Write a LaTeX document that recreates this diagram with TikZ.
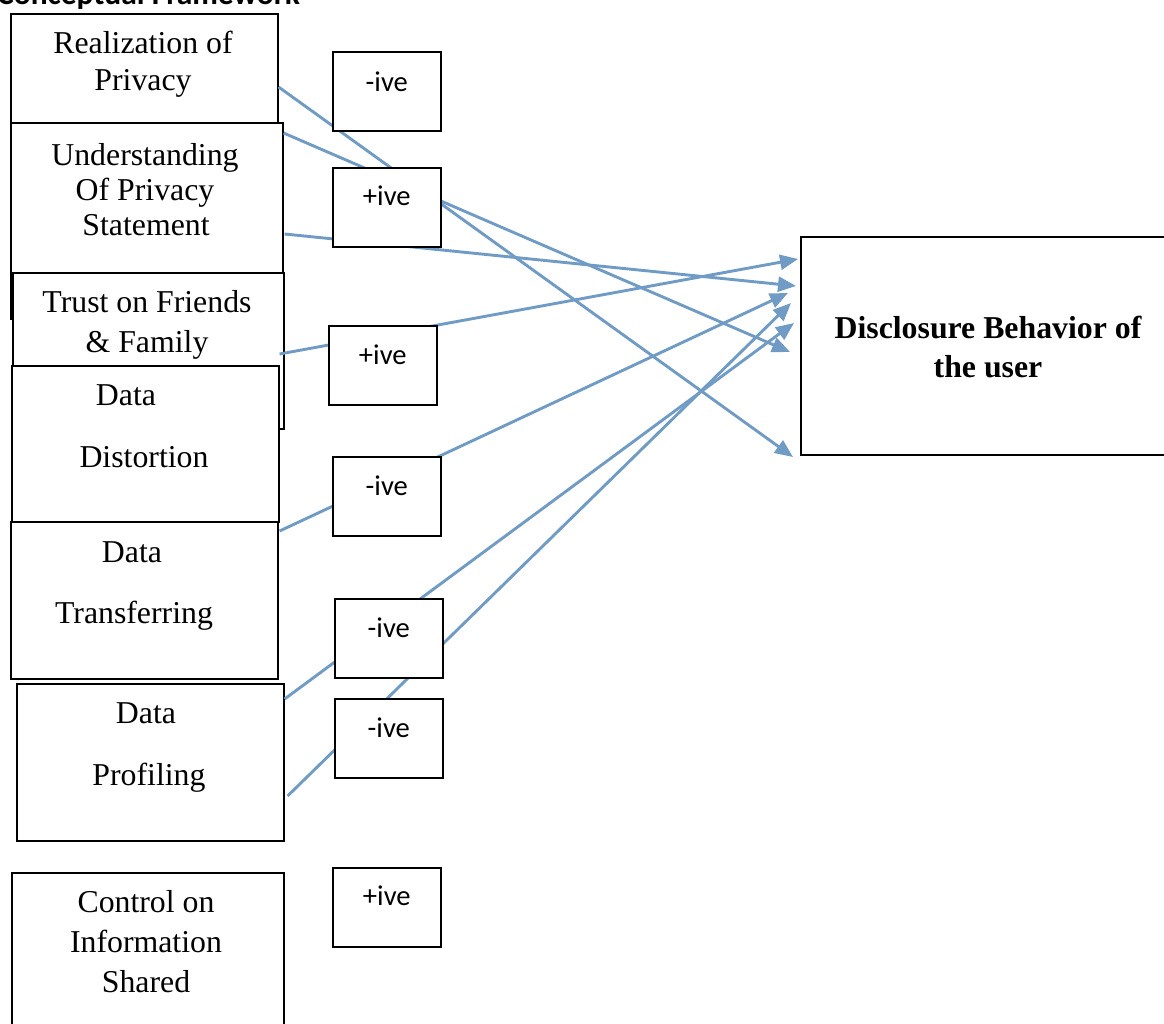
\documentclass[tikz,border=0pt]{standalone}
\usepackage{fontspec}
\setmainfont{Liberation Serif}
\newfontfamily\calibri{Carlito}
\usetikzlibrary{arrows.meta,calc}
\definecolor{connblue}{RGB}{112,155,197}
\begin{document}
\begin{tikzpicture}[x=1pt,y=-1pt,
  box/.style={draw=black, line width=1.6pt, fill=white, rectangle, inner sep=0pt, anchor=north west},
  lbox/.style={box, minimum width=108pt, minimum height=79pt},
  txt/.style={font=\fontsize{31.8}{38}\selectfont, anchor=base, inner sep=0pt},
  btxt/.style={font=\bfseries\fontsize{31.8}{38}\selectfont, anchor=base, inner sep=0pt},
  lab/.style={font=\calibri\fontsize{28.6}{34}\selectfont, anchor=base, inner sep=0pt},
  conn/.style={draw=connblue, line width=2.9pt, -{Triangle[length=18pt,width=15pt]}}]
\useasboundingbox (0,0) rectangle (1164,1023);
\clip (0,0) rectangle (1164,1023);

% title (cut at top edge, as in the reference)
\node[font=\calibri\bfseries\fontsize{31.5}{38}\selectfont, anchor=base west, inner sep=0pt] (title) at (-3,4) {Conceptual Framework};

% left boxes
\node[box, minimum width=267pt, minimum height=110pt] (b1) at (10,13) {};
\node[txt] (b1a) at (143,53) {Realization of};
\node[txt] (b1b) at (143,90) {Privacy};

\node[box, minimum width=272pt, minimum height=196pt] (b2) at (10,122) {};
\node[txt] (b2a) at (145,165) {Understanding};
\node[txt] (b2b) at (145,200) {Of Privacy};
\node[txt] (b2c) at (146,235) {Statement};

\node[box, minimum width=271pt, minimum height=156pt] (b3) at (12,272) {};
\node[txt] (b3a) at (147,312) {Trust on Friends};
\node[txt] (b3b) at (147,352) {\& Family};

\node[box, minimum width=267pt, minimum height=156pt] (b4) at (11,365) {};
\node[txt] (b4a) at (126,405) {Data};
\node[txt] (b4b) at (144,467) {Distortion};

\node[box, minimum width=267pt, minimum height=157pt] (b5) at (10,521) {};
\node[txt] (b5a) at (132,562) {Data};
\node[txt] (b5b) at (134,623) {Transferring};

\node[box, minimum width=267pt, minimum height=157pt] (b6) at (16,683) {};
\node[txt] (b6a) at (146,723) {Data};
\node[txt] (b6b) at (149,785) {Profiling};

\node[box, minimum width=272pt, minimum height=170pt] (b7) at (11,872) {};
\node[txt] (b7a) at (146,912) {Control on};
\node[txt] (b7b) at (146,952) {Information};
\node[txt] (b7c) at (146,992) {Shared};

% target box
\node[box, minimum width=380pt, minimum height=218pt] (tg) at (800,236) {};
\node[btxt] (tga) at (988,338) {Disclosure Behavior of};
\node[btxt] (tgb) at (988,377) {the user};

% connector ends
\coordinate (s1) at ($(b1.north east)+(0,74)$);
\coordinate (s2) at ($(b2.north east)+(0,11)$);
\coordinate (s3) at ($(b2.north east)+(1,112)$);
\coordinate (s4) at ($(b3.north east)+(-5,82)$);
\coordinate (s5) at ($(b5.north east)+(1,10)$);
\coordinate (s6) at ($(b6.north east)+(0,16)$);
\coordinate (s7) at ($(b6.north east)+(3,113)$);

\coordinate (e1) at ($(tg.north west)+(-7,221)$);
\coordinate (e2) at ($(tg.north west)+(-10,116)$);
\coordinate (e3) at ($(tg.north west)+(-4,50)$);
\coordinate (e4) at ($(tg.north west)+(-2,23)$);
\coordinate (e5) at ($(tg.north west)+(-12,57)$);
\coordinate (e6) at ($(tg.north west)+(-6,87)$);
\coordinate (e7) at ($(tg.north west)+(-9,67)$);

\draw[conn] (s1) -- (e1);
\draw[conn] (s2) -- (e2);
\draw[conn] (s3) -- (e3);
\draw[conn] (s4) -- (e4);
\draw[conn] (s5) -- (e5);
\draw[conn] (s6) -- (e6);
\draw[conn] (s7) -- (e7);

% sign boxes (over the connectors)
\node[lbox] (la) at (332,51) {};
\node[lab] (lat) at ($(la.north)+(0,40)$) {-ive};
\node[lbox] (lb) at (332,167) {};
\node[lab] (lbt) at ($(lb.north)+(0,38)$) {+ive};
\node[lbox] (lc) at (328,325) {};
\node[lab] (lct) at ($(lc.north)+(0,39)$) {+ive};
\node[lbox] (ld) at (332,456) {};
\node[lab] (ldt) at ($(ld.north)+(0,39)$) {-ive};
\node[lbox] (le) at (334,598) {};
\node[lab] (let) at ($(le.north)+(0,39)$) {-ive};
\node[lbox] (lf) at (334,698) {};
\node[lab] (lft) at ($(lf.north)+(0,39)$) {-ive};
\node[lbox] (lg) at (332,867) {};
\node[lab] (lgt) at ($(lg.north)+(0,38)$) {+ive};
\end{tikzpicture}
\end{document}
